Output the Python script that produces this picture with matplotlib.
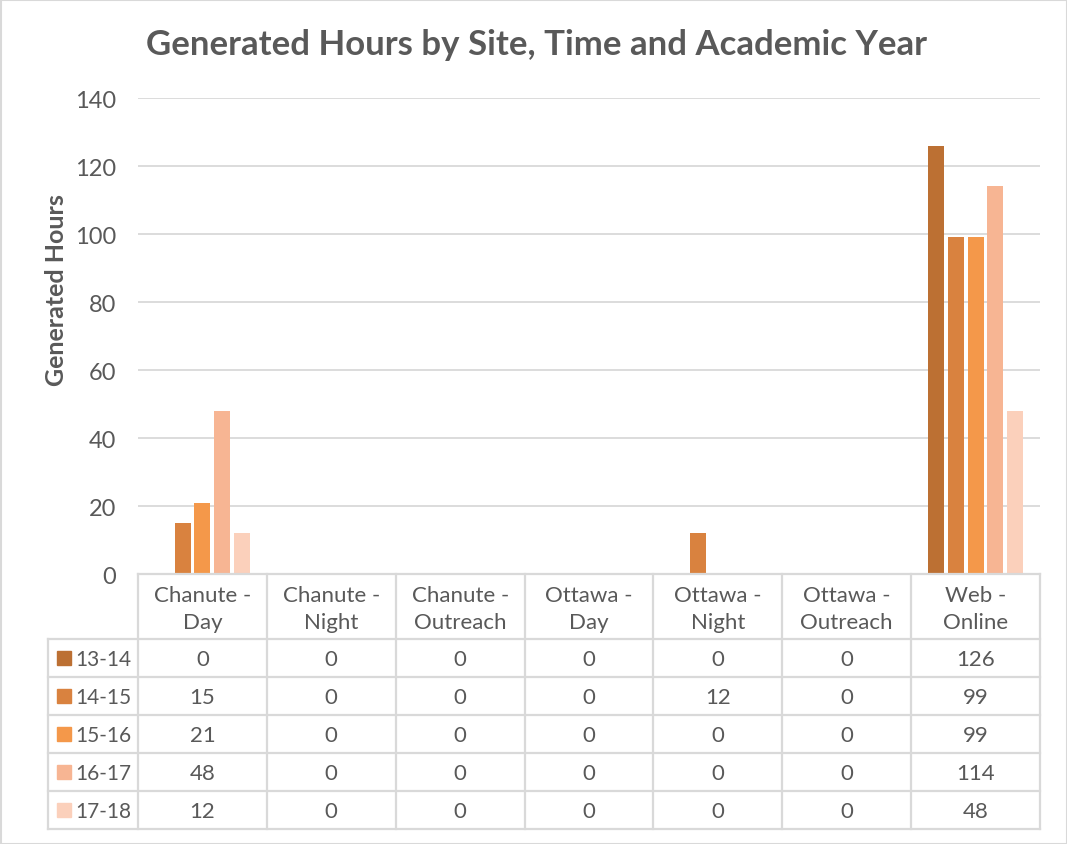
import matplotlib

matplotlib.use("Agg")
import matplotlib.pyplot as plt
from matplotlib.patches import Rectangle

categories = ["Chanute -\nDay", "Chanute -\nNight", "Chanute -\nOutreach", "Ottawa -\nDay",
              "Ottawa -\nNight", "Ottawa -\nOutreach", "Web -\nOnline"]
years = ["13-14", "14-15", "15-16", "16-17", "17-18"]
hours = [
    [0, 0, 0, 0, 0, 0, 126],
    [15, 0, 0, 0, 12, 0, 99],
    [21, 0, 0, 0, 0, 0, 99],
    [48, 0, 0, 0, 0, 0, 114],
    [12, 0, 0, 0, 0, 0, 48],
]
colors = ["#BC7033", "#D9823F", "#F4984A", "#F7B593", "#FBD0BB"]
y_ticks = [0, 20, 40, 60, 80, 100, 120, 140]

plt.rcParams["font.family"] = ["Lato", "DejaVu Sans"]
TXT = "#595959"
GRID = "#D9D9D9"
W, H = 1067, 845

fig = plt.figure(figsize=(W / 100, H / 100), dpi=100)

# plot area in pixel coords
x0, x1, y_top, y_zero = 138, 1040, 99, 575
ax = fig.add_axes([x0 / W, 1 - y_zero / H, (x1 - x0) / W, (y_zero - y_top) / H])
n_cat = len(categories)
ax.set_xlim(-0.5, n_cat - 0.5)
ax.set_ylim(0, 140)
ax.set_yticks(y_ticks)
ax.tick_params(axis="y", length=0, pad=16, labelsize=17, labelcolor=TXT)
ax.set_xticks([])
for s in ax.spines.values():
    s.set_visible(False)
ax.grid(axis="y", color=GRID, linewidth=1.3)
ax.set_axisbelow(True)

slot = 0.152
bw = 0.125
for i, (vals, c) in enumerate(zip(hours, colors)):
    xs = [k + (i - 2) * slot for k in range(n_cat)]
    ax.bar(xs, vals, width=bw, color=c, zorder=3)

fig.text(57 / W, 1 - 290 / H, "Generated Hours", rotation=90, ha="center", va="center",
         fontsize=18, fontweight="bold", color=TXT)

fig.text(536 / W, 1 - 45 / H, "Generated Hours by Site, Time and Academic Year",
         ha="center", va="center", fontsize=25, fontweight="bold", color=TXT)

# overlay for table, pixel coordinates
ov = fig.add_axes([0, 0, 1, 1])
ov.set_xlim(0, W)
ov.set_ylim(H, 0)
ov.axis("off")
ov.patch.set_alpha(0)

ov.add_patch(Rectangle((0.5, 0.5), W - 1, H - 1, fill=False, edgecolor=GRID, lw=1.5))

col_w = (x1 - x0) / n_cat
row_top = 640
row_h = 38
n_rows = len(years)
tbl_bottom = row_top + row_h * n_rows
lw = 1.6

# horizontal lines
ov.plot([x0, x1], [y_zero, y_zero], color=GRID, lw=lw)
for r in range(n_rows + 1):
    yy = row_top + r * row_h
    ov.plot([48, x1], [yy, yy], color=GRID, lw=lw)
# vertical lines
ov.plot([48, 48], [row_top, tbl_bottom], color=GRID, lw=lw)
for k in range(n_cat + 1):
    xx = x0 + k * col_w
    ov.plot([xx, xx], [y_zero, tbl_bottom], color=GRID, lw=lw)

for k, cat in enumerate(categories):
    ov.text(x0 + (k + 0.5) * col_w, (y_zero + row_top) / 2 + 2, cat, ha="center", va="center",
            fontsize=16, color=TXT, linespacing=1.45)

for r, (yr, vals, c) in enumerate(zip(years, hours, colors)):
    yc = row_top + (r + 0.5) * row_h
    ov.add_patch(Rectangle((57, yc - 7), 14, 14, color=c))
    ov.text(75, yc + 1, yr, ha="left", va="center", fontsize=15, color=TXT)
    for k, v in enumerate(vals):
        ov.text(x0 + (k + 0.5) * col_w, yc + 1, str(v), ha="center", va="center",
                fontsize=16, color=TXT)

fig.savefig("out.png", dpi=100)
